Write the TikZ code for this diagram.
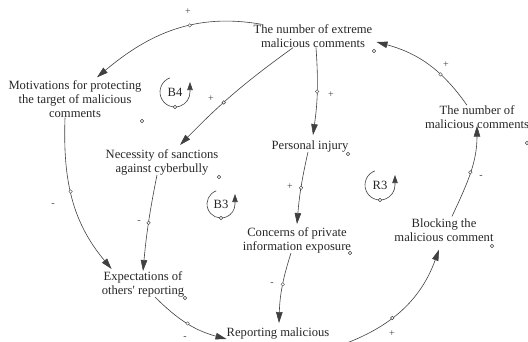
\documentclass[tikz,border=0pt]{standalone}
\usepackage{fontspec}
\setmainfont{Liberation Serif}
\usetikzlibrary{arrows.meta}

\tikzset{
  var/.style={align=center, inner sep=0pt, text=black!85, font=\fontsize{12.6}{14}\selectfont},
  link/.style={draw=black!75, line width=0.6pt, -{Triangle[length=11pt,width=6.5pt]}},
  dot/.style={circle, draw=black!75, fill=white, line width=0.4pt, inner sep=0pt, minimum size=3.5pt},
  pol/.style={text=black!75, font=\fontsize{10}{10}\selectfont, inner sep=0pt},
  loopsym/.style={draw=black!75, line width=0.6pt, -{Triangle[length=8pt,width=5.5pt]}},
}

\begin{document}
\begin{tikzpicture}[x=1pt,y=1pt]
\useasboundingbox (0,0) rectangle (528,341);
%%%% Variables:
\node[var] (ext) at (313,305) {The number of extreme\\malicious comments};
\node[var] (mot) at (75,242) {Motivations for protecting\\the target of malicious\\comments};
\node[var] (nec) at (162,179) {Necessity of sanctions\\against cyberbully};
\node[var] (pers) at (310,195) {Personal injury};
\node[var] (nmal) at (477,224) {The number of\\malicious comments};
\node[var] (conc) at (297,101) {Concerns of private\\information exposure};
\node[var] (blk) at (444,111) {Blocking the\\malicious comment};
\node[var] (expt) at (143,57) {Expectations of\\others\textquotesingle{} reporting};
\node[var] (rep) at (278,8) {Reporting malicious};

%%%% Variable markers:
\node[dot] (extm) at (374,290) {};
\node[dot] (motm) at (142,220) {};
\node[dot] (necm) at (219,164) {};
\node[dot] (persm) at (348,187) {};
\node[dot] (nmalm) at (527,198) {};
\node[dot] (concm) at (350,88) {};
\node[dot] (blkm) at (492,95) {};
\node[dot] (exptm) at (185,43) {};

%%%% Links:
\draw[link] ([xshift=8pt]ext.north west) to[out=170,in=40] node[dot,pos=0.4] (d1) {} ([xshift=22pt,yshift=3pt]mot.north);
\draw[link] ([xshift=-20pt]ext.south) to[bend right=5] node[dot,pos=0.6] (d2) {} ([xshift=18pt,yshift=4pt]nec.north);
\draw[link] ([xshift=3pt]ext.south) to[bend left=6] node[dot,pos=0.5] (d3) {} ([xshift=3pt,yshift=5pt]pers.north);
\draw[link] ([xshift=-10pt]nmal.north) to[out=125,in=-15] node[dot,pos=0.35] (d4) {} ([xshift=4pt,yshift=-6pt]ext.east);
\draw[link] ([xshift=-2pt]pers.south) to[bend right=4] node[dot,pos=0.5] (d5) {} ([yshift=3pt]conc.north);
\draw[link] ([xshift=-6pt]conc.south) to[bend right=8] node[dot,pos=0.45] (d6) {} ([xshift=1pt,yshift=4pt]rep.north);
\draw[link] ([xshift=-5pt]nec.south) to[bend right=3] node[dot,pos=0.5] (d7) {} (expt.north);
\draw[link] ([xshift=-10pt]mot.south) to[out=-92,in=130] node[dot,pos=0.45] (d8) {} ([xshift=10pt,yshift=2pt]expt.north west);
\draw[link] ([xshift=12pt]expt.south) to[out=-45,in=165] node[dot,pos=0.5] (d9) {} ([yshift=-6pt]rep.west);
\draw[link] ([shift={(12pt,-12pt)}]rep.east) to[out=20,in=-110] node[dot,pos=0.4] (d10) {} ([xshift=-5pt,yshift=-8pt]blk.south);
\draw[link] ([xshift=8pt,yshift=2pt]blk.north) to[out=65,in=-90] node[dot,pos=0.5] (d11) {} ([yshift=3pt]nmal.south);

%%%% Polarities:
\node[pol] (p1) at (188,329) {+};
\node[pol] (p2) at (211,242) {+};
\node[pol] (p3) at (331,246) {+};
\node[pol] (p4) at (446,276) {+};
\node[pol] (p5) at (290,154) {+};
\node[pol] (p6) at (272,57) {-};
\node[pol] (p7) at (139,119) {-};
\node[pol] (p8) at (53,136) {-};
\node[pol] (p9) at (185,3) {-};
\node[pol] (p10) at (392,7) {+};
\node[pol] (p11) at (481,164) {-};

%%%% Loops:
\node[var] (b4) at (175,249) {B4};
\draw[loopsym] (b4.center) ++(110:15) arc[start angle=110,end angle=360,radius=15] -- ++(0,10);
\node[dot] (b4m) at (175,234) {};
\node[var] (b3) at (221,137) {B3};
\draw[loopsym] (b3.center) ++(110:14) arc[start angle=110,end angle=360,radius=14] -- ++(0,10);
\node[dot] (b3m) at (221,123) {};
\node[var] (r3) at (380,156) {R3};
\draw[loopsym] (r3.center) ++(110:15) arc[start angle=110,end angle=360,radius=15] -- ++(0,10);
\node[dot] (r3m) at (380,141) {};
\end{tikzpicture}
\end{document}
